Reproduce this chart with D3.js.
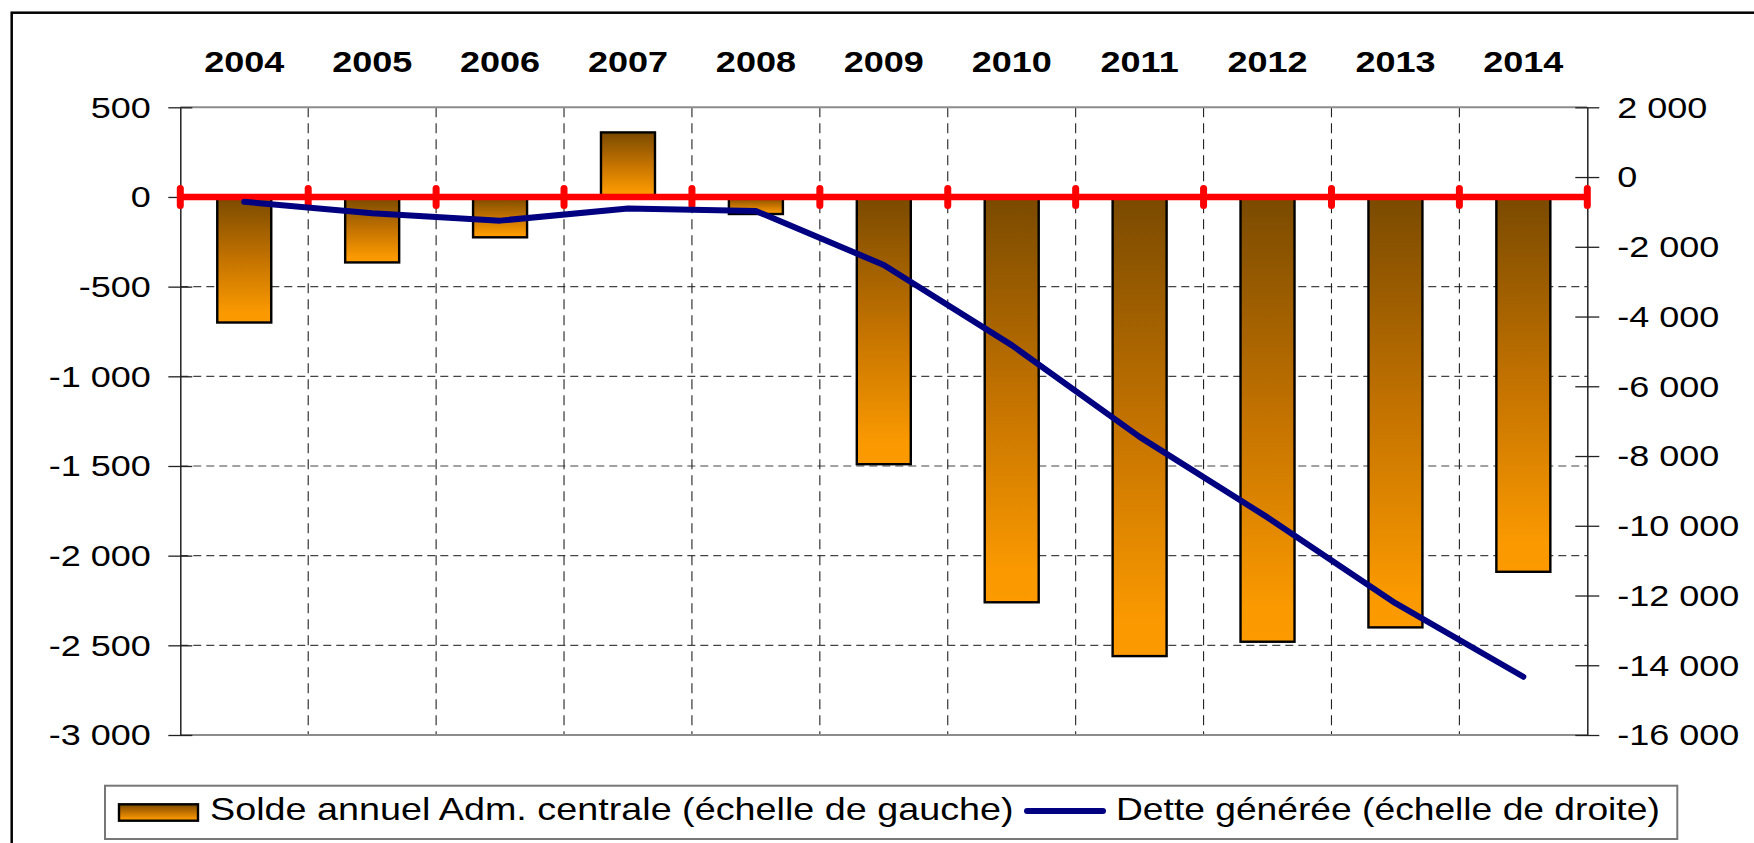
<!DOCTYPE html>
<html>
<head>
<meta charset="utf-8">
<script src="https://cdn.jsdelivr.net/npm/d3@7"></script>
<style>
html,body{margin:0;padding:0;background:#fff;overflow:hidden}
text{font-family:"Liberation Sans",Arial,sans-serif;fill:#000}
</style>
</head>
<body>
<svg id="chart" width="1754" height="843"></svg>
<script>
// ---- data ----
const years = ["2004","2005","2006","2007","2008","2009","2010","2011","2012","2013","2014"];
const solde = [-700, -365, -225, 360, -95, -1490, -2260, -2560, -2480, -2400, -2090];
const dette = [-710, -1040, -1250, -900, -975, -2520, -4820, -7450, -9760, -12220, -14330];
const leftTicks = [500, 0, -500, -1000, -1500, -2000, -2500, -3000];
const rightTicks = [2000, 0, -2000, -4000, -6000, -8000, -10000, -12000, -14000, -16000];
const legendLabels = ["Solde annuel Adm. centrale (échelle de gauche)", "Dette générée (échelle de droite)"];

// ---- layout ----
const L = 180.3, R = 1587.3, T = 107.3, B = 735;
const SX = 1.2; // horizontal text stretch of the original
const svg = d3.select("#chart");

const fr = d3.formatLocale({decimal: ",", thousands: "\u00a0", grouping: [3], currency: ["", ""], minus: "-"});
const fmt = fr.format(",d");

const x = d3.scaleBand().domain(years).range([L, R]).padding(0);
const bw = x.bandwidth();
const yL = d3.scaleLinear().domain([-3000, 500]).range([B, T]);
const yR = d3.scaleLinear().domain([-16000, 2000]).range([B, T]);

// gradient
const defs = svg.append("defs");
const grad = defs.append("linearGradient").attr("id", "barGrad")
  .attr("x1", 0).attr("y1", 0).attr("x2", 0).attr("y2", 1);
grad.append("stop").attr("offset", "0%").attr("stop-color", "#7a4a00");
grad.append("stop").attr("offset", "50%").attr("stop-color", "#c47300");
grad.append("stop").attr("offset", "92%").attr("stop-color", "#fa9900");
grad.append("stop").attr("offset", "100%").attr("stop-color", "#fc9a00");

// outer frame
svg.append("rect").attr("x", 11.7).attr("y", 12.7).attr("width", 1800).attr("height", 900)
  .attr("fill", "none").attr("stroke", "#000").attr("stroke-width", 2.5);

// horizontal gridlines
svg.append("g").selectAll("line")
  .data(leftTicks.filter(v => v !== 0 && v !== 500 && v !== -3000))
  .join("line")
  .attr("x1", L).attr("x2", R)
  .attr("y1", d => yL(d)).attr("y2", d => yL(d))
  .attr("stroke", "#444").attr("stroke-width", 1.2).attr("stroke-dasharray", "8,5");

// vertical gridlines at category boundaries
svg.append("g").selectAll("line")
  .data(years.slice(1))
  .join("line")
  .attr("x1", d => x(d)).attr("x2", d => x(d))
  .attr("y1", T).attr("y2", B)
  .attr("stroke", "#222").attr("stroke-width", 1.1).attr("stroke-dasharray", "10,6");

// plot top/bottom border
svg.append("line").attr("x1", L).attr("x2", R).attr("y1", T).attr("y2", T)
  .attr("stroke", "#8c8c8c").attr("stroke-width", 2);
svg.append("line").attr("x1", L).attr("x2", R).attr("y1", B).attr("y2", B)
  .attr("stroke", "#8c8c8c").attr("stroke-width", 2);

// bars
const barW = 54;
svg.append("g").selectAll("rect")
  .data(years.map((y, i) => ({y, v: solde[i]})))
  .join("rect")
  .attr("x", d => x(d.y) + (bw - barW) / 2)
  .attr("width", barW)
  .attr("y", d => yL(Math.max(0, d.v)))
  .attr("height", d => Math.abs(yL(d.v) - yL(0)))
  .attr("fill", "url(#barGrad)")
  .attr("stroke", "#000").attr("stroke-width", 2.4);

// left axis
const axL = svg.append("g").attr("transform", `translate(${L},0)`)
  .call(d3.axisLeft(yL).tickValues(leftTicks).tickSizeInner(12).tickSizeOuter(0).tickFormat(fmt));
axL.select(".domain").attr("stroke", "#222").attr("stroke-width", 1.5);
axL.selectAll(".tick line").attr("x1", 12).attr("stroke", "#222").attr("stroke-width", 1.3);
axL.selectAll(".tick text").attr("x", null).attr("dy", "0.33em")
  .attr("transform", `translate(-29.6,0) scale(${SX},1)`)
  .attr("font-size", 30).attr("font-family", null).attr("fill", "#000");

// right axis
const axR = svg.append("g").attr("transform", `translate(${R},0)`)
  .call(d3.axisRight(yR).tickValues(rightTicks).tickSizeInner(12).tickSizeOuter(0).tickFormat(fmt));
axR.select(".domain").attr("stroke", "#222").attr("stroke-width", 1.5);
axR.selectAll(".tick line").attr("x1", -12).attr("stroke", "#222").attr("stroke-width", 1.3);
axR.selectAll(".tick text").attr("x", null).attr("dy", "0.33em")
  .attr("transform", `translate(30,0) scale(${SX},1)`)
  .attr("font-size", 30).attr("font-family", null).attr("fill", "#000");
svg.selectAll(".tick text").attr("text-anchor", null);
axL.selectAll(".tick text").attr("text-anchor", "end");
axR.selectAll(".tick text").attr("text-anchor", "start");

// red zero axis with category boundary ticks
const y0 = yL(0);
svg.append("line").attr("x1", L).attr("x2", R).attr("y1", y0).attr("y2", y0)
  .attr("stroke", "#ff0000").attr("stroke-width", 6.5);
svg.append("g").selectAll("line")
  .data(d3.range(years.length + 1))
  .join("line")
  .attr("x1", k => L + k * bw).attr("x2", k => L + k * bw)
  .attr("y1", y0 - 8.5).attr("y2", y0 + 8.5)
  .attr("stroke", "#ff0000").attr("stroke-width", 7).attr("stroke-linecap", "round");

// debt line
const line = d3.line().x((d, i) => x(years[i]) + bw / 2).y(d => yR(d));
svg.append("path").datum(dette).attr("d", line)
  .attr("fill", "none").attr("stroke", "#000080").attr("stroke-width", 6)
  .attr("stroke-linejoin", "round").attr("stroke-linecap", "round");

// year labels on top
svg.append("g").selectAll("text")
  .data(years)
  .join("text")
  .attr("transform", d => `translate(${x(d) + bw / 2},71.7) scale(${SX},1)`)
  .attr("text-anchor", "middle").attr("font-weight", "bold").attr("font-size", 30)
  .text(d => d);

// legend
const lg = svg.append("g");
lg.append("rect").attr("x", 105).attr("y", 785.7).attr("width", 1572.3).attr("height", 53.3)
  .attr("fill", "#fff").attr("stroke", "#777").attr("stroke-width", 2);
lg.append("rect").attr("x", 119).attr("y", 804.3).attr("width", 79).attr("height", 16.4)
  .attr("fill", "url(#barGrad)").attr("stroke", "#000").attr("stroke-width", 2.4);
lg.append("text").attr("transform", `translate(210,820) scale(1.218,1)`)
  .attr("font-size", 31).text(legendLabels[0]);
lg.append("line").attr("x1", 1027).attr("x2", 1103).attr("y1", 811).attr("y2", 811)
  .attr("stroke", "#000080").attr("stroke-width", 6).attr("stroke-linecap", "round");
lg.append("text").attr("transform", `translate(1116,820) scale(${SX},1)`)
  .attr("font-size", 31).text(legendLabels[1]);
</script>
</body>
</html>
